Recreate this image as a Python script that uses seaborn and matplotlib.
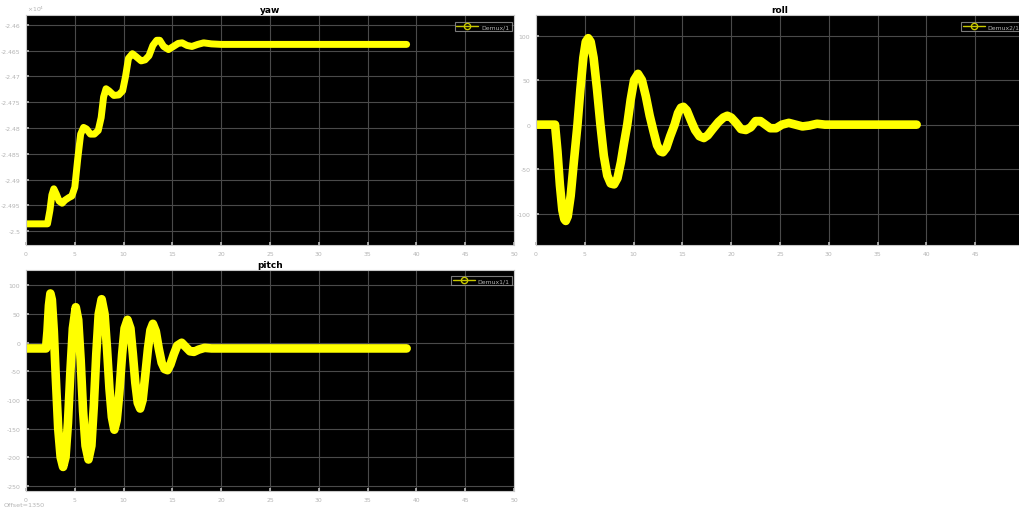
import matplotlib
matplotlib.use("Agg")
import matplotlib.pyplot as plt
from matplotlib.lines import Line2D
from matplotlib.ticker import FuncFormatter
import seaborn as sns
import pandas as pd

# ---- signal samples (time in s) ----
yaw_t = [0, 2.2, 2.45, 2.65, 2.85, 3.1, 3.4, 3.7, 4.0, 4.4, 4.7, 5.0, 5.3, 5.6, 5.9,
         6.2, 6.6, 7.0, 7.4, 7.7, 7.95, 8.2, 8.5, 9.0, 9.5, 9.9, 10.2, 10.5, 10.9,
         11.3, 11.8, 12.2, 12.6, 13.0, 13.4, 13.7, 14.1, 14.6, 15.1, 15.6, 16.0,
         16.5, 17.0, 17.6, 18.2, 19.0, 20.0, 39.0]
yaw_v = [-24986, -24986, -24960, -24930, -24918, -24928, -24942, -24946, -24940,
         -24935, -24932, -24915, -24860, -24812, -24799, -24802, -24812, -24812,
         -24805, -24780, -24740, -24724, -24728, -24737, -24736, -24728, -24700,
         -24665, -24656, -24662, -24670, -24668, -24660, -24640, -24630, -24630,
         -24642, -24648, -24642, -24636, -24635, -24640, -24642, -24638, -24635,
         -24637, -24638, -24638]

roll_t = [0, 1.95, 2.2, 2.45, 2.7, 2.9, 3.05, 3.25, 3.55, 3.85, 4.25, 4.55, 4.85,
          5.1, 5.35, 5.6, 5.9, 6.25, 6.6, 6.95, 7.3, 7.65, 8.0, 8.35, 8.7, 9.0,
          9.35, 9.7, 10.05, 10.45, 10.85, 11.25, 11.65, 12.05, 12.4, 12.75, 13.0,
          13.35, 13.75, 14.2, 14.55, 14.85, 15.1, 15.45, 15.9, 16.3, 16.75, 17.2,
          17.6, 18.1, 18.7, 19.2, 19.6, 20.0, 20.5, 21.0, 21.5, 22.0, 22.5, 23.0,
          23.5, 24.0, 24.6, 25.2, 25.9, 26.6, 27.3, 28.0, 28.8, 29.6, 30.5, 39.0]
roll_v = [0, 0, -30, -68, -96, -106, -108, -103, -80, -45, 0, 40, 75,
          93, 97, 93, 75, 40, 0, -35, -57, -66, -67, -60, -42, -22,
          0, 28, 50, 57, 50, 32, 10, -8, -23, -30, -31,
          -26, -13, 0, 13, 19, 20, 16, 4, -6, -13, -15,
          -12, -5, 3, 8, 10, 8, 2, -5, -6, -3, 4, 4,
          0, -4, -4, 0, 2, 0, -2, -1, 1, 0, 0, 0]

pitch_t = [0, 2.05, 2.2, 2.35, 2.5, 2.65, 2.85, 3.05, 3.3, 3.55, 3.8, 4.05, 4.3,
           4.55, 4.8, 5.1, 5.35, 5.6, 5.85, 6.1, 6.4, 6.7, 6.95, 7.2, 7.45, 7.75,
           8.05, 8.3, 8.55, 8.8, 9.05, 9.3, 9.55, 9.85, 10.1, 10.4, 10.7, 10.95,
           11.2, 11.45, 11.7, 11.95, 12.2, 12.5, 12.75, 13.0, 13.3, 13.6, 13.9,
           14.2, 14.5, 14.8, 15.15, 15.5, 15.95, 16.4, 16.8, 17.2, 17.7, 18.3,
           19.0, 20.0, 39.0]
pitch_v = [-10, -10, 20, 65, 86, 75, 20, -60, -150, -200, -217, -200, -140,
           -50, 25, 62, 40, -30, -120, -180, -204, -180, -110, -20, 50, 76,
           50, -10, -80, -130, -152, -135, -90, -20, 25, 40, 25, -20,
           -70, -105, -115, -100, -60, -10, 22, 33, 20, -10, -35,
           -46, -48, -38, -20, -5, 0, -8, -15, -16, -12, -9,
           -10, -10, -10]

titles = ["yaw", "roll", "pitch"]
legend_labels = ["Demux/1", "Demux2/1", "Demux1/1"]
x_ticks = [0, 5, 10, 15, 20, 25, 30, 35, 40, 45, 50]
roll_x_ticks = [0, 5, 10, 15, 20, 25, 30, 35, 40, 45]
yaw_ticks = [-25000, -24950, -24900, -24850, -24800, -24750, -24700, -24650, -24600]
roll_ticks = [-100, -50, 0, 50, 100]
pitch_ticks = [-250, -200, -150, -100, -50, 0, 50, 100]

sns.set_theme(style="dark")
plt.rcParams["font.family"] = ["DejaVu Sans"]
plt.rcParams["axes.unicode_minus"] = False

W, H = 1019, 510
fig = plt.figure(figsize=(W / 100, H / 100), dpi=100, facecolor="white")


def box(l, t, r, b):
    return [l / W, 1 - b / H, (r - l) / W, (b - t) / H]


ax_yaw = fig.add_axes(box(26, 16, 514, 246))
ax_roll = fig.add_axes(box(536, 16, 1024, 246))
ax_pitch = fig.add_axes(box(26, 271, 514, 492))

tick_col = "#b4b4b4"
line_col = "#ffff00"

specs = [
    (ax_yaw, yaw_t, yaw_v, (-25027, -24581), yaw_ticks, x_ticks, 5.0, 7),
    (ax_roll, roll_t, roll_v, (-135, 123), roll_ticks, roll_x_ticks, 6.2, 7),
    (ax_pitch, pitch_t, pitch_v, (-259, 127), pitch_ticks, x_ticks, 6.2, 6),
]

for (ax, t, v, ylim, yt, xt, lw, leg_dy), title, lab in zip(specs, titles, legend_labels):
    df = pd.DataFrame({"t": t, "v": v})
    sns.lineplot(data=df, x="t", y="v", ax=ax, color=line_col, lw=lw,
                 estimator=None, sort=False, solid_capstyle="round",
                 solid_joinstyle="round")
    ax.set_facecolor("black")
    ax.set_xlim(0, 50)
    ax.set_ylim(*ylim)
    ax.set_xticks(xt)
    ax.set_yticks(yt)
    ax.grid(True, color="#4a4a4a", lw=0.8)
    ax.set_axisbelow(True)
    ax.tick_params(axis="both", colors=tick_col, labelsize=4.4, length=2,
                   direction="in", pad=4, bottom=True, left=True)
    for s in ax.spines.values():
        s.set_color("#c8c8c8")
        s.set_linewidth(0.8)
    ax.set_xlabel("")
    ax.set_ylabel("")
    ax.set_title(title, fontsize=6.5, fontweight="bold", color="black", pad=2)
    handle = Line2D([], [], color="#c8c800", lw=1, marker="o", ms=4.5,
                    mfc="none", mec="#c8c800")
    bb = ax.get_position()
    ax_w = bb.width * W
    ax_h = bb.height * H
    leg = ax.legend([handle], [lab], loc="upper right", fontsize=4.4,
                    frameon=True, facecolor="black", edgecolor="#9a9a9a",
                    labelcolor=tick_col, handlelength=3.6, handletextpad=0.5,
                    borderpad=0.3, borderaxespad=0.0, fancybox=False,
                    bbox_to_anchor=(1 - 2.5 / ax_w, 1 - leg_dy / ax_h))
    leg.get_frame().set_linewidth(0.8)

# yaw axis labelled in units of 10^4
ax_yaw.yaxis.set_major_formatter(FuncFormatter(lambda y, p: f"{y / 1e4:g}"))
fig.text(27 / W, 1 - 9 / H, r"$\times10^4$", fontsize=4.4, color=tick_col,
         ha="left", va="center")
fig.text(4 / W, 1 - 506 / H, "Offset=1350", fontsize=4.6, color=tick_col,
         ha="left", va="center")

fig.savefig("out.png", dpi=100, facecolor="white")
